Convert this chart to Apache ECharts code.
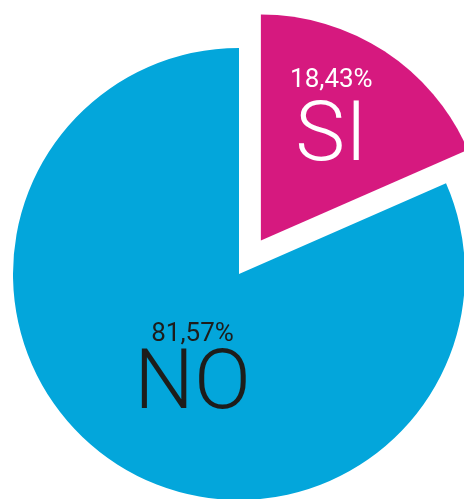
<!DOCTYPE html>
<html>
<head>
<meta charset="utf-8">
<script src="https://cdn.jsdelivr.net/npm/echarts@6/dist/echarts.min.js"></script>
<style>
  html, body { margin: 0; padding: 0; background: #fff; }
  #chart { width: 464px; height: 499px; }
</style>
</head>
<body>
<div id="chart"></div>
<script>
// dati
const categories = ['SI', 'NO'];
const values = [18.43, 81.57];
const colors = ['#d6197f', '#03a6db'];
const labelColors = ['#ffffff', '#1d1d1b'];

const fmt = v => v.toFixed(2).replace('.', ',') + '%';

const chart = echarts.init(document.getElementById('chart'));

chart.setOption({
    animation: false,
    series: [{
        type: 'pie',
        center: [239, 274],
        radius: [0, 226],
        startAngle: 90,
        clockwise: true,
        selectedMode: 'single',
        selectedOffset: 40,
        emphasis: { disabled: true },
        itemStyle: { borderWidth: 0 },
        data: categories.map((name, i) => ({
            name: name,
            value: values[i],
            selected: i === 0,
            itemStyle: { color: colors[i] },
            label: {
                // colore testo
                rich: {
                    p: { fontSize: 26, fontWeight: 400, lineHeight: 30, color: labelColors[i], fontFamily: 'Roboto' },
                    n: { fontSize: 84, fontWeight: 300, lineHeight: i === 0 ? 87 : 75, color: labelColors[i], fontFamily: 'Roboto' }
                }
            }
        })),
        label: {
            show: true,
            position: 'inside',
            align: 'center',
            textBorderWidth: 0,
            formatter: p => '{p|' + fmt(p.value) + '}\n{n|' + p.name + '}'
        },
        labelLine: { show: false },
        labelLayout: function (params) {
            // spostamento etichette
            if (params.dataIndex === 0) {
                return { dx: 7, dy: -19 };
            }
            return { dx: 17, dy: 1 };
        }
    }]
});
</script>
</body>
</html>
